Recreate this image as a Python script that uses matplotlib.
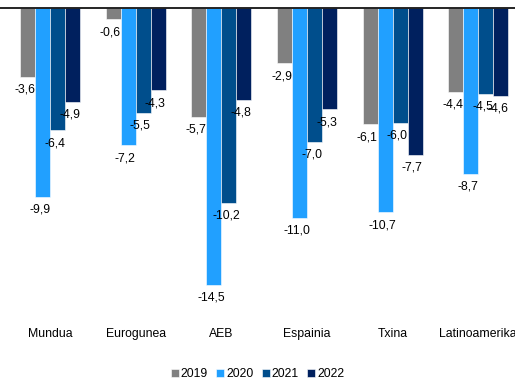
import numpy as np
import matplotlib
matplotlib.use('Agg')
import matplotlib.pyplot as plt

plt.rcParams['font.family'] = ['Liberation Sans', 'DejaVu Sans']

regions = ['Mundua', 'Eurogunea', 'AEB', 'Espainia', 'Txina', 'Latinoamerika']
years = ['2019', '2020', '2021', '2022']
v2019 = [-3.6, -0.6, -5.7, -2.9, -6.1, -4.4]
v2020 = [-9.9, -7.2, -14.5, -11.0, -10.7, -8.7]
v2021 = [-6.4, -5.5, -10.2, -7.0, -6.0, -4.5]
v2022 = [-4.9, -4.3, -4.8, -5.3, -7.7, -4.6]
series = [v2019, v2020, v2021, v2022]
colors = ['#808080', '#21A0FF', '#004E8C', '#00205E']

fig = plt.figure(figsize=(5.15, 3.83), dpi=100)
ax = fig.add_axes([0.0, 0.172, 1.0, 0.807])

x = np.arange(len(regions))
w = 0.175
for i, (vals, c, yr) in enumerate(zip(series, colors, years)):
    pos = x + (i - 1.5) * w
    bars = ax.bar(pos, vals, w, color=c, edgecolor='white', linewidth=0.4, label=yr)
    for p, v in zip(pos, vals):
        ax.annotate(f'{v:.1f}'.replace('.', ','), (p, v), xytext=(-2, -5),
                    textcoords='offset points', ha='center', va='top', fontsize=8.8)

ax.set_xlim(-0.583, 5.43)
ax.set_ylim(-16.2, 0)
ax.set_yticks([])
ax.set_xticks(x)
ax.set_xticklabels(regions, fontsize=8.8)
ax.tick_params(axis='x', length=0, pad=8)
for s in ['left', 'right', 'bottom']:
    ax.spines[s].set_visible(False)
ax.spines['top'].set_linewidth(1.2)
ax.xaxis.set_ticks_position('bottom')

fig.legend(loc='lower center', bbox_to_anchor=(0.5, -0.022), ncol=4, fontsize=8.8,
           frameon=False, handlelength=0.65, handleheight=0.65, handletextpad=0.15,
           columnspacing=0.7)

fig.savefig('out.png', dpi=100)
